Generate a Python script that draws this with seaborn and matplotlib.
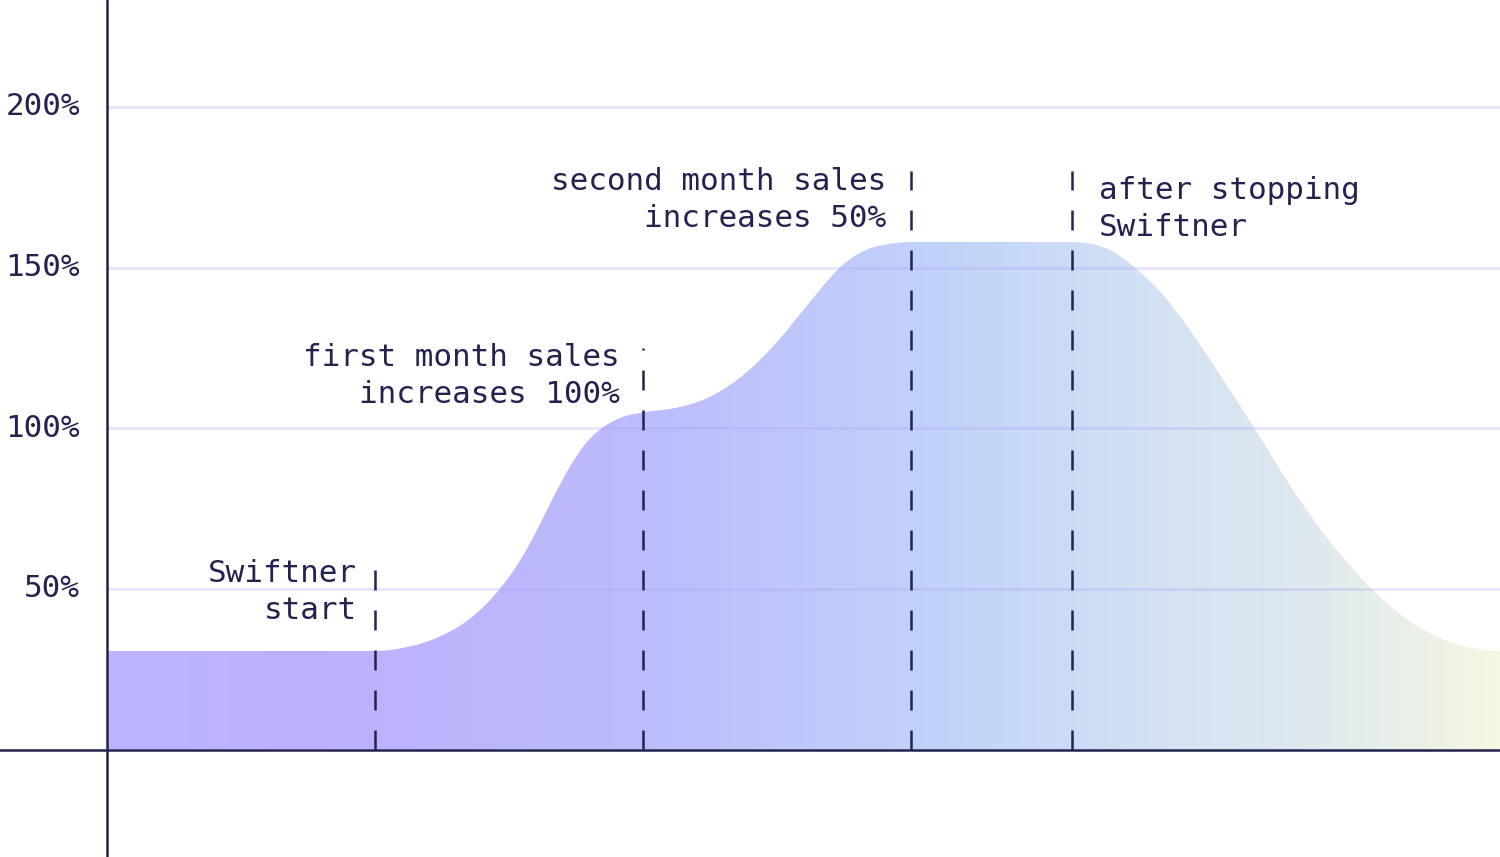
import numpy as np
import matplotlib
matplotlib.use("Agg")
import matplotlib.pyplot as plt
from matplotlib.colors import LinearSegmentedColormap, to_rgb
from matplotlib.path import Path
from matplotlib.patches import PathPatch
import seaborn as sns

# ---- data (x in months since start, y in % of baseline sales) ----
months = [0.0, 1.0, 1.1045, 1.2313, 1.3545, 1.4664, 1.5410, 1.6045, 1.6642, 1.7276,
          1.7910, 1.8507, 1.9142, 2.0, 2.1119, 2.2388, 2.3619, 2.4851, 2.6119, 2.6716,
          2.7351, 2.7985, 2.8582, 2.9291, 3.0, 3.6, 3.7239, 3.8358, 3.9291, 4.0485,
          4.1716, 4.2836, 4.4216, 4.5075, 4.5896, 4.7127, 4.8358, 4.9627, 5.0858, 5.1978]
sales = [30.7, 30.7, 31.65, 34.83, 40.77, 50.11, 58.82, 68.35, 78.31, 88.11,
         95.78, 100.28, 103.21, 104.98, 106.19, 109.37, 115.75, 125.49, 138.19, 144.26,
         150.08, 154.06, 156.30, 157.49, 157.98, 157.98, 156.15, 149.98, 142.58, 129.63,
         114.22, 99.75, 81.33, 70.93, 62.03, 50.51, 41.49, 35.14, 31.75, 30.7]

event_x = [1.0, 2.0, 3.0, 3.6]
event_top = [59, 125, 180, 180]
event_labels = ["Swiftner\nstart", "first month sales\nincreases 100%",
                "second month sales\nincreases 50%", "after stopping\nSwiftner"]
event_label_y = [49, 116.3, 171.2, 168.2]

y_ticks = [50, 100, 150, 200]
y_tick_labels = ["50%", "100%", "150%", "200%"]

# ---- style ----
sns.set_theme(style="white")
plt.rcParams["font.family"] = ["DejaVu Sans Mono", "DejaVu Sans"]
ink = "#22234f"
fs = 22.3
label_offsets = [-0.067, -0.086, -0.093, 0.1]

fig = plt.figure(figsize=(15, 8.57), dpi=100)
ax = fig.add_axes([0, 0, 1, 1])
ax.set_xlim(-0.3993, 5.1978)
ax.set_ylim(-33.43, 233.3)
for s in ax.spines.values():
    s.set_visible(False)
ax.set_xticks([])
ax.set_yticks([])
ax.set_facecolor("white")


def smooth_area_path(xs, ys):
    """Monotone-X cubic Bezier path through the points (as d3.curveMonotoneX), closed to y=0."""
    x = np.asarray(xs, float)
    y = np.asarray(ys, float)
    h = np.diff(x)
    d = np.diff(y) / h
    n = len(x)
    m = np.zeros(n)
    for k in range(1, n - 1):
        s0, s1 = d[k - 1], d[k]
        p = (s0 * h[k] + s1 * h[k - 1]) / (h[k - 1] + h[k])
        m[k] = (np.sign(s0) + np.sign(s1)) * min(abs(s0), abs(s1), 0.5 * abs(p))
    verts = [(x[0], 0.0), (x[0], y[0])]
    codes = [Path.MOVETO, Path.LINETO]
    for i in range(n - 1):
        verts += [(x[i] + h[i] / 3, y[i] + m[i] * h[i] / 3),
                  (x[i + 1] - h[i] / 3, y[i + 1] - m[i + 1] * h[i] / 3),
                  (x[i + 1], y[i + 1])]
        codes += [Path.CURVE4] * 3
    verts += [(x[-1], 0.0), (x[0], 0.0)]
    codes += [Path.LINETO, Path.CLOSEPOLY]
    return Path(verts, codes)


area = PathPatch(smooth_area_path(months, sales), facecolor="none", edgecolor="none",
                 transform=ax.transData)
ax.add_patch(area)

stops_px = [107, 300, 640, 950, 1150, 1300, 1500]
stops_col = ["#bbb5fd", "#bdb0fd", "#bcbcfc", "#c2d3f9", "#d3e1f3", "#dde8ef", "#f5f7e2"]
pos = [(p - 107) / (1500 - 107) for p in stops_px]
cmap = LinearSegmentedColormap.from_list("g", list(zip(pos, [to_rgb(c) for c in stops_col])))
grad = np.repeat(np.linspace(0, 1, 800).reshape(1, -1), 2, axis=0)
im = ax.imshow(grad, cmap=cmap, aspect="auto", extent=[0, 5.1978, 0, 165],
               origin="lower", zorder=1, interpolation="bilinear")
im.set_clip_path(area)

sns.lineplot(x=months, y=sales, ax=ax, color="#c4c8fb", lw=0, zorder=1)

# grid lines on top of fill
for t in y_ticks:
    ax.plot([0, 5.1978], [t, t], color="#a9a0f8", alpha=0.28, lw=2, zorder=2)

# axes lines
ax.axvline(0, color=ink, lw=1.8, zorder=5)
ax.axhline(0, color=ink, lw=1.8, zorder=5)

# tick labels
for t, lab in zip(y_ticks, y_tick_labels):
    ax.text(-0.1007, t, lab, ha="right", va="center", fontsize=fs, color=ink)

# event dashed lines and labels
for i, (ex, top, lab, ly) in enumerate(zip(event_x, event_top, event_labels, event_label_y)):
    ax.plot([ex, ex], [0, top], color=ink, lw=1.8, dashes=(8, 8), zorder=4)
    ha = "right" if i < 3 else "left"
    ax.text(ex + label_offsets[i], ly, lab, ha=ha, va="center", multialignment=ha,
            fontsize=fs, color=ink, linespacing=1.35)

fig.savefig("out.png", dpi=100)
